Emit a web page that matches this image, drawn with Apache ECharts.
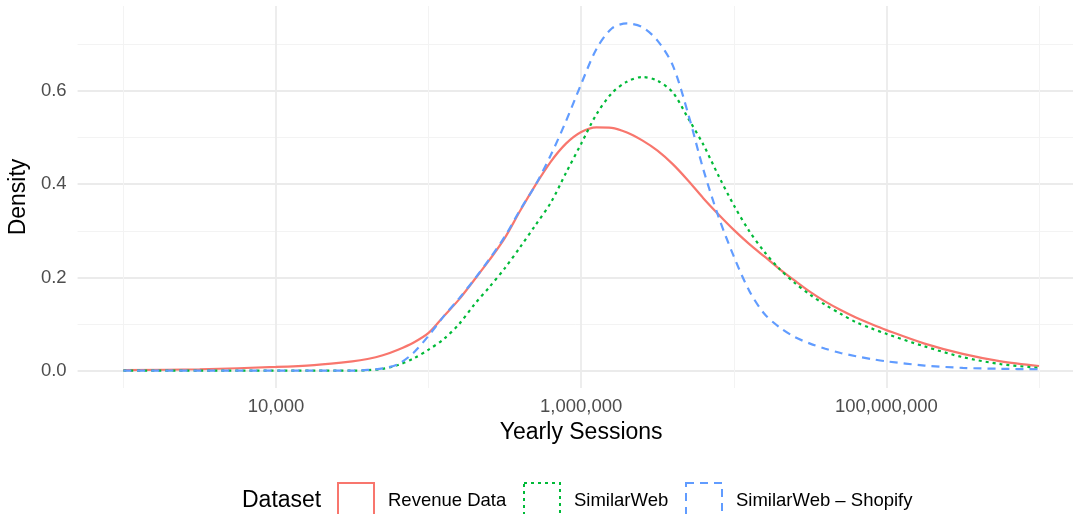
<!DOCTYPE html>
<html><head><meta charset="utf-8">
<script src="https://cdn.jsdelivr.net/npm/echarts@6/dist/echarts.min.js"></script>
<style>html,body{margin:0;padding:0;background:#fff}#c{width:1073px;height:514px}</style>
</head><body><div id="c"></div>
<script>
// x values are log10(Yearly Sessions)
const logSessions = [3.0, 3.5, 4.0, 4.25, 4.5, 4.6, 4.7, 4.8, 4.9, 5.0, 5.1, 5.2, 5.3, 5.4, 5.5, 5.6, 5.7, 5.8, 5.9, 6.0, 6.1, 6.2, 6.3, 6.4, 6.5, 6.6, 6.7, 6.8, 6.9, 7.0, 7.1, 7.2, 7.3, 7.4, 7.5, 7.6, 7.7, 7.8, 7.9, 8.0, 8.25, 8.5, 8.75, 9.0];
const revenueData = [0.001, 0.003, 0.008, 0.012, 0.020, 0.025, 0.033, 0.045, 0.060, 0.081, 0.117, 0.153, 0.195, 0.238, 0.285, 0.343, 0.398, 0.448, 0.487, 0.512, 0.522, 0.521, 0.511, 0.494, 0.472, 0.443, 0.408, 0.370, 0.335, 0.302, 0.272, 0.245, 0.218, 0.193, 0.169, 0.148, 0.130, 0.114, 0.100, 0.087, 0.058, 0.036, 0.020, 0.010];
const similarWeb = [0, 0, 0, 0, 0, 0.001, 0.004, 0.012, 0.026, 0.045, 0.068, 0.100, 0.142, 0.180, 0.220, 0.265, 0.312, 0.360, 0.424, 0.487, 0.550, 0.595, 0.620, 0.630, 0.622, 0.597, 0.542, 0.485, 0.418, 0.355, 0.300, 0.255, 0.218, 0.188, 0.163, 0.141, 0.122, 0.104, 0.091, 0.079, 0.052, 0.029, 0.014, 0.006];
const similarWebShopify = [0, 0, 0, 0, 0, 0.0015, 0.005, 0.014, 0.038, 0.075, 0.117, 0.155, 0.196, 0.240, 0.288, 0.345, 0.398, 0.462, 0.535, 0.615, 0.690, 0.734, 0.745, 0.737, 0.708, 0.655, 0.552, 0.432, 0.330, 0.245, 0.172, 0.122, 0.093, 0.072, 0.058, 0.047, 0.038, 0.031, 0.025, 0.020, 0.011, 0.006, 0.004, 0.003];
const seriesNames = ['Revenue Data', 'SimilarWeb', 'SimilarWeb \u2013 Shopify'];
const xMajorTicks = [4, 6, 8];
const xMinorTicks = [3, 5, 7, 9];
const yMajorTicks = [0, 0.2, 0.4, 0.6];
const yMinorTicks = [0.1, 0.3, 0.5, 0.7];

const FONT = '"Liberation Sans", Arial, Helvetica, sans-serif';
const colors = ['#F8766D', '#00BA38', '#619CFF'];
const dashes = ['solid', [3, 4], [8, 6]];
const pair = ys => logSessions.map((x, i) => [x, ys[i]]);
const fmtX = v => Math.round(Math.pow(10, v)).toLocaleString('en-US');

const X_MIN = 2.7, X_MAX = 9.3, Y_MIN = -0.0372, Y_MAX = 0.7823;
const chart = echarts.init(document.getElementById('c'), null, {renderer: 'canvas'});

const baseX = {
  type: 'value', min: X_MIN, max: X_MAX, position: 'bottom',
  axisLine: {show: false}, axisTick: {show: false}
};
const baseY = {
  type: 'value', min: Y_MIN, max: Y_MAX, position: 'left',
  axisLine: {show: false}, axisTick: {show: false}
};

const legendDefs = [337, 523, 685];
chart.setOption({
  animation: false,
  backgroundColor: '#ffffff',
  textStyle: {fontFamily: FONT},
  title: {
    text: 'Dataset', left: 242, top: 489,
    textStyle: {fontFamily: FONT, fontSize: 23, fontWeight: 'normal', color: '#000000'},
    padding: 0
  },
  grid: {left: 77.6, right: -11.8, top: 6, bottom: 126, containLabel: false, outerBoundsMode: 'none'},
  xAxis: [
    Object.assign({}, baseX, {
      axisTick: {show: false, customValues: xMinorTicks},
      axisLabel: {show: false},
      splitLine: {show: true, lineStyle: {color: '#f3f3f3', width: 1}}
    }),
    Object.assign({}, baseX, {
      name: 'Yearly Sessions', nameLocation: 'middle', nameGap: 30,
      nameTextStyle: {fontFamily: FONT, fontSize: 23, color: '#000000'},
      axisTick: {show: false, customValues: xMajorTicks},
      axisLabel: {customValues: xMajorTicks, formatter: fmtX, fontFamily: FONT, fontSize: 18.5, color: '#4d4d4d', margin: 9},
      splitLine: {show: true, lineStyle: {color: '#ebebeb', width: 1.8}}
    })
  ],
  yAxis: [
    Object.assign({}, baseY, {
      axisTick: {show: false, customValues: yMinorTicks},
      axisLabel: {show: false},
      splitLine: {show: true, lineStyle: {color: '#f3f3f3', width: 1}}
    }),
    Object.assign({}, baseY, {
      name: 'Density', nameLocation: 'middle', nameGap: 43, nameRotate: 90,
      nameTextStyle: {fontFamily: FONT, fontSize: 23, color: '#000000'},
      axisTick: {show: false, customValues: yMajorTicks},
      axisLabel: {customValues: yMajorTicks, formatter: v => v.toFixed(1), fontFamily: FONT, fontSize: 18.5, color: '#4d4d4d', margin: 11},
      splitLine: {show: true, lineStyle: {color: '#ebebeb', width: 1.8}}
    })
  ],
  legend: seriesNames.map((n, i) => ({
    data: [{
      name: n, icon: 'rect',
      itemStyle: {color: 'rgba(0,0,0,0)', borderColor: colors[i], borderWidth: 2, borderType: dashes[i]}
    }],
    left: legendDefs[i], top: 482, padding: 0,
    itemWidth: 36, itemHeight: 36, selectedMode: false,
    textStyle: {fontFamily: FONT, fontSize: 18.5, color: '#000000', padding: [0, 0, 0, 9]}
  })),
  series: [revenueData, similarWeb, similarWebShopify].map((ys, i) => ({
    name: seriesNames[i], type: 'line', xAxisIndex: 1, yAxisIndex: 1,
    data: pair(ys), showSymbol: false, smooth: 0.3, z: 3 + i,
    lineStyle: {color: colors[i], width: 2.2, type: dashes[i]},
    itemStyle: {color: colors[i]}
  }))
});
</script></body></html>
